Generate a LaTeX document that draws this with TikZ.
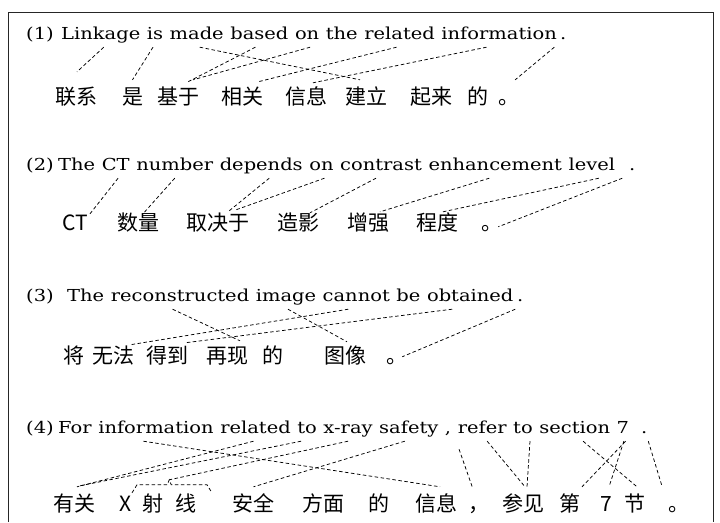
\documentclass[tikz,border=0pt]{standalone}
\usepackage{fontspec}
\newfontfamily\enf[FakeStretch=1.18]{DejaVu Serif}
\newfontfamily\cjk{Noto Sans CJK SC}
\usetikzlibrary{calc}
\begin{document}
\begin{tikzpicture}[x=1pt,y=-1pt,
  en/.style={font=\enf\fontsize{16.5}{18}\selectfont, inner xsep=0pt, inner ysep=4pt, text height=12pt, text depth=4pt, anchor=base west},
  zh/.style={font=\cjk\fontsize{21}{24}\selectfont, inner xsep=0pt, inner ysep=6pt, text height=15pt, text depth=2pt, anchor=base},
  lk/.style={dash pattern=on 3.5pt off 2.5pt, line width=0.75pt},
  frm/.style={line width=1pt, draw=black!85}]
\useasboundingbox (0,0) rectangle (720,522);
\draw[frm] (8,522) -- (8,12) -- (713,12) -- (713,522);

% ---------- (1) ----------
\node[en] (e1p) at (26,39) {(1)};
\node[en] (e1a) at (61,39) {Linkage};
\node[en] (e1b) at ([xshift=6.2pt]e1a.base east) {is};
\node[en] (e1c) at ([xshift=6.2pt]e1b.base east) {made};
\node[en] (e1d) at ([xshift=6.2pt]e1c.base east) {based};
\node[en] (e1e) at ([xshift=6.2pt]e1d.base east) {on};
\node[en] (e1f) at ([xshift=6.2pt]e1e.base east) {the};
\node[en] (e1g) at ([xshift=6.2pt]e1f.base east) {related};
\node[en] (e1h) at ([xshift=6.2pt]e1g.base east) {information};
\node[en] (e1z) at (560,39) {.};

\node[zh] (c1a) at (76,104) {联系};
\node[zh] (c1b) at (132.5,104) {是};
\node[zh] (c1c) at (178.5,104) {基于};
\node[zh] (c1d) at (242.5,104) {相关};
\node[zh] (c1e) at (306.5,104) {信息};
\node[zh] (c1f) at (366.5,104) {建立};
\node[zh] (c1g) at (431,104) {起来};
\node[zh] (c1h) at (477.5,104) {的};
\node[zh, anchor=base west] (c1z) at (498,104) {。};

\draw[lk] ([xshift=3pt]e1a.south) -- ([xshift=1pt,yshift=11pt]c1a.north);
\draw[lk] ([xshift=-2pt]e1b.south) -- ([yshift=3pt]c1b.north);
\draw[lk] ([xshift=3pt]e1c.south) -- ([xshift=-6.5pt,yshift=3pt]c1f.north);
\draw[lk] ([xshift=-4pt]e1d.south) -- ([xshift=9.5pt,yshift=1pt]c1c.north);
\draw[lk] ([xshift=3pt]e1e.south) -- ([xshift=14.5pt,yshift=3pt]c1c.north);
\draw[lk] ([xshift=-3pt]e1g.south) -- ([xshift=15.5pt,yshift=1pt]c1d.north);
\draw[lk] ([xshift=-12.6pt]e1h.south) -- ([xshift=6.5pt]c1e.north);
\draw[lk] ([xshift=-9pt]e1z.south) -- ([xshift=6.5pt,yshift=3pt]c1z.north);

% ---------- (2) ----------
\node[en] (e2p) at (26,170) {(2)};
\node[en] (e2a) at (58,170) {The};
\node[en] (e2b) at ([xshift=6.2pt]e2a.base east) {CT};
\node[en] (e2c) at ([xshift=6.2pt]e2b.base east) {number};
\node[en] (e2d) at ([xshift=6.2pt]e2c.base east) {depends};
\node[en] (e2e) at ([xshift=6.2pt]e2d.base east) {on};
\node[en] (e2f) at ([xshift=6.2pt]e2e.base east) {contrast};
\node[en] (e2g) at ([xshift=6.2pt]e2f.base east) {enhancement};
\node[en] (e2h) at ([xshift=6.2pt]e2g.base east) {level};
\node[en] (e2z) at (629,170) {.};

\node[zh] (c2a) at (75,230) {CT};
\node[zh] (c2b) at (138,230) {数量};
\node[zh] (c2c) at (218,230) {取决于};
\node[zh] (c2d) at (298.5,230) {造影};
\node[zh] (c2e) at (368,230) {增强};
\node[zh] (c2f) at (437.5,230) {程度};
\node[zh, anchor=base west] (c2z) at (481,230) {。};

\draw[lk] ([xshift=2.3pt]e2b.south) -- ([xshift=15pt,yshift=-5pt]c2a.north);
\draw[lk] (e2c.south) -- ([xshift=5pt,yshift=-5pt]c2b.north);
\draw[lk] ([xshift=8pt]e2d.south) -- ([xshift=10pt,yshift=-3pt]c2c.north);
\draw[lk] ([xshift=3pt]e2e.south) -- ([xshift=18pt,yshift=-1pt]c2c.north);
\draw[lk] ([xshift=-5pt]e2f.south) -- ([xshift=11.5pt,yshift=-4pt]c2d.north);
\draw[lk] ([xshift=-6pt]e2g.south) -- ([xshift=12pt,yshift=-3pt]c2e.north);
\draw[lk] ([xshift=7pt]e2h.south) -- ([xshift=5.5pt,yshift=-3pt]c2f.north);
\draw[lk] ([xshift=-10pt]e2z.south) -- ([xshift=6.5pt,yshift=-18pt]c2z.north);

% ---------- (3) ----------
\node[en] (e3p) at (26,301) {(3)};
\node[en] (e3a) at (67,301) {The};
\node[en] (e3b) at ([xshift=6.2pt]e3a.base east) {reconstructed};
\node[en] (e3c) at ([xshift=6.2pt]e3b.base east) {image};
\node[en] (e3d) at ([xshift=6.2pt]e3c.base east) {cannot};
\node[en] (e3e) at ([xshift=6.2pt]e3d.base east) {be};
\node[en] (e3f) at ([xshift=6.2pt]e3e.base east) {obtained};
\node[en] (e3z) at (517,301) {.};

\node[zh] (c3a) at (73.5,363) {将};
\node[zh] (c3b) at (113,363) {无法};
\node[zh] (c3c) at (167,363) {得到};
\node[zh] (c3d) at (227,363) {再现};
\node[zh] (c3e) at (272.5,363) {的};
\node[zh] (c3f) at (345,363) {图像};
\node[zh, anchor=base west] (c3z) at (386,363) {。};

\draw[lk] ([xshift=-7.5pt]e3b.south) -- ([xshift=13pt,yshift=1pt]c3d.north);
\draw[lk] ([xshift=2pt]e3c.south) -- ([xshift=2pt]c3f.north);
\draw[lk] ([xshift=-8pt]e3d.south) -- ([xshift=17pt,yshift=-3pt]c3b.north);
\draw[lk] ([xshift=-18pt]e3f.south) -- ([xshift=18pt,yshift=-1pt]c3c.north);
\draw[lk] ([xshift=-5pt]e3z.south) -- ([xshift=5.5pt,yshift=-15pt]c3z.north);

% ---------- (4) ----------
\node[en] (e4p) at (26,433) {(4)};
\node[en] (e4a) at (58,433) {For};
\node[en] (e4b) at ([xshift=6.2pt]e4a.base east) {information};
\node[en] (e4c) at ([xshift=6.2pt]e4b.base east) {related};
\node[en] (e4d) at ([xshift=6.2pt]e4c.base east) {to};
\node[en] (e4e) at ([xshift=6.2pt]e4d.base east) {x-ray};
\node[en] (e4f) at ([xshift=6.2pt]e4e.base east) {safety};
\node[en] (e4g) at ([xshift=6.2pt]e4f.base east) {,};
\node[en] (e4h) at ([xshift=6.2pt]e4g.base east) {refer};
\node[en] (e4i) at ([xshift=6.2pt]e4h.base east) {to};
\node[en] (e4j) at ([xshift=6.2pt]e4i.base east) {section};
\node[en] (e4k) at ([xshift=6.2pt]e4j.base east) {7};
\node[en] (e4z) at (641,433) {.};

\node[zh] (c4a) at (74,511) {有关};
\node[zh] (c4b) at (125.5,511) {X};
\node[zh] (c4c) at (152.5,511) {射};
\node[zh] (c4d) at (186,511) {线};
\node[zh] (c4e) at (253.5,511) {安全};
\node[zh] (c4f) at (323.5,511) {方面};
\node[zh] (c4g) at (379,511) {的};
\node[zh] (c4h) at (436.5,511) {信息};
\node[zh, anchor=base west] (c4i) at (468,511) {，};
\node[zh] (c4j) at (523.5,511) {参见};
\node[zh] (c4k) at (570,511) {第};
\node[zh] (c4l) at (606.5,511) {7};
\node[zh] (c4m) at (635,511) {节};
\node[zh, anchor=base west] (c4z) at (668,511) {。};

\coordinate (brk) at ($(c4c.north)!0.5!(c4d.north)+(0,-10)$);
\draw[lk] ([xshift=6.5pt,yshift=-3pt]c4b.north) -- ([xshift=11.5pt,yshift=5pt]c4b.north)
  -- ([xshift=-2pt,yshift=-5pt]brk) -- (brk) -- ([xshift=2pt,yshift=-5pt]brk)
  -- ([xshift=21pt,yshift=5pt]c4d.north) -- ([xshift=26pt,yshift=-3pt]c4d.north);

\draw[lk] ([xshift=-12.6pt]e4b.south) -- ([xshift=3.5pt,yshift=3pt]c4h.north);
\draw[lk] ([xshift=-2pt]e4c.south) -- ([xshift=3pt,yshift=3pt]c4a.north);
\draw[lk] ([xshift=-6pt]e4d.south) -- ([xshift=6pt,yshift=4pt]c4a.north);
\draw[lk] (e4e.south) -- (brk);
\draw[lk] ([xshift=-4pt]e4f.south) -- ([yshift=3pt]c4e.north);
\draw[lk] ([xshift=11pt,yshift=-8pt]e4g.south) -- ([xshift=-6.5pt,yshift=3pt]c4i.north);
\draw[lk] ([xshift=5pt]e4h.south) -- ([xshift=1.5pt,yshift=3pt]c4j.north);
\draw[lk] ([xshift=7pt]e4i.south) -- ([xshift=3.5pt,yshift=3pt]c4j.north);
\draw[lk] ([xshift=8.4pt]e4j.south) -- ([xshift=2pt,yshift=3pt]c4m.north);
\draw[lk] ([xshift=2.7pt]e4k.south) -- ([xshift=12pt,yshift=3pt]c4k.north);
\draw[lk] ([xshift=1pt]e4k.south) -- ([xshift=2.5pt,yshift=3pt]c4l.north);
\draw[lk] ([xshift=4pt]e4z.south) -- ([xshift=-16.5pt,yshift=3pt]c4z.north);
\end{tikzpicture}
\end{document}
